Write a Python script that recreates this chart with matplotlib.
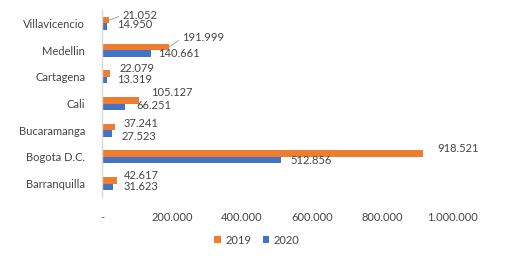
import matplotlib
matplotlib.use("Agg")
import matplotlib.pyplot as plt
import numpy as np

categories = ["Barranquilla", "Bogota D.C.", "Bucaramanga", "Cali", "Cartagena", "Medellin", "Villavicencio"]
values_2019 = [42617, 918521, 37241, 105127, 22079, 191999, 21052]
values_2020 = [31623, 512856, 27523, 66251, 13319, 140661, 14950]
xticks = [0, 200000, 400000, 600000, 800000, 1000000]
xtick_labels = ["-", "200.000", "400.000", "600.000", "800.000", "1.000.000"]

# label offsets in pixels (dx, dy up-positive), style only
off_2019 = [(7, 4.5), (13.5, 5), (9, 3), (12, 8), (10, 4.6), (13, 9), (13.5, 5)]
off_2020 = [(11, 0), (8.5, -0.6), (9.4, -3.4), (11, 1), (10, 1), (7, 0), (10, 1.7)]
leader_2019 = [False, False, False, False, False, True, True]

plt.rcParams['font.family'] = ['Lato', 'DejaVu Sans']
TXT = "#444444"
ORANGE = "#ED7D31"
BLUE = "#4472C4"
FS = 8.0

fig = plt.figure(figsize=(5.14, 2.67), dpi=100)
ax = fig.add_axes([102/514, 70/267, (469.5-102)/514, 187/267])

y = np.arange(len(categories))
h = 0.245
b19 = ax.barh(y + h/2, values_2019, height=h, color=ORANGE, label="2019")
b20 = ax.barh(y - h/2, values_2020, height=h, color=BLUE, label="2020")

def fmt(v):
    return f"{v:,}".replace(",", ".")

for i, (v, yy) in enumerate(zip(values_2019, y + h/2)):
    dx, dy = off_2019[i]
    kw = {}
    if leader_2019[i]:
        kw['arrowprops'] = dict(arrowstyle='-', color="#A6A6A6", lw=0.7,
                                shrinkA=1, shrinkB=0, relpos=(0, 0.5))
    ax.annotate(fmt(v), xy=(v, yy), xytext=(dx, dy), textcoords='offset pixels',
                ha='left', va='center', fontsize=FS, color=TXT, **kw)
for i, (v, yy) in enumerate(zip(values_2020, y - h/2)):
    dx, dy = off_2020[i]
    ax.annotate(fmt(v), xy=(v, yy), xytext=(dx, dy), textcoords='offset pixels',
                ha='left', va='center', fontsize=FS, color=TXT)

ax.set_xlim(0, 1050000)
ax.set_ylim(-0.5, len(categories) - 0.5)
ax.set_yticks(y)
ax.set_yticklabels(categories, fontsize=FS, color=TXT)
ax.set_xticks(xticks)
ax.set_xticklabels(xtick_labels, fontsize=FS, color=TXT)
ax.tick_params(axis='both', length=0)
ax.tick_params(axis='y', pad=12)
ax.tick_params(axis='x', pad=11)
for s in ['top', 'right', 'bottom']:
    ax.spines[s].set_visible(False)
ax.spines['left'].set_color("#D9D9D9")
ax.spines['left'].set_linewidth(1)

leg = fig.legend(handles=[b19, b20], labels=["2019", "2020"], loc='center',
                 bbox_to_anchor=(257/514, 1 - 240/267), ncol=2, frameon=False,
                 fontsize=FS, handlelength=0.6, handleheight=0.6,
                 handletextpad=0.4, columnspacing=1.0)
for t in leg.get_texts():
    t.set_color(TXT)

fig.savefig("out.png", dpi=100)
